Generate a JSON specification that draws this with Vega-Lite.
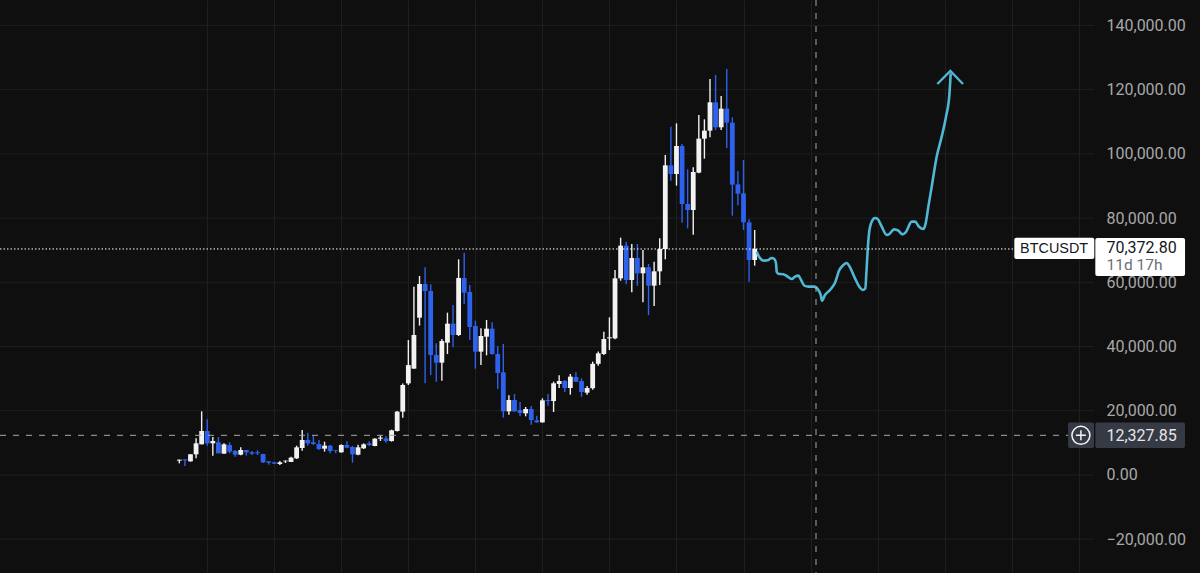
{
"$schema":"https://vega.github.io/schema/vega-lite/v6.json",
"width":1200,"height":573,"padding":0,"autosize":"none","background":"#0f0f0f",
"config":{"view":{"stroke":null}},
"datasets":{
"one":[{"note":"annotation"}],
"candles":[
{"i":0,"o":4435,"h":4745,"l":3600,"c":4745,"dir":"up"},
{"i":1,"o":4850,"h":4850,"l":2773,"c":4540,"dir":"down"},
{"i":2,"o":4226,"h":6500,"l":4100,"c":6407,"dir":"up"},
{"i":3,"o":6407,"h":11390,"l":5160,"c":9833,"dir":"up"},
{"i":4,"o":9520,"h":19800,"l":9520,"c":13675,"dir":"up"},
{"i":5,"o":13675,"h":17310,"l":9105,"c":9833,"dir":"down"},
{"i":6,"o":9833,"h":11806,"l":6000,"c":10560,"dir":"up"},
{"i":7,"o":10145,"h":11806,"l":6720,"c":6720,"dir":"down"},
{"i":8,"o":6615,"h":9833,"l":6615,"c":9520,"dir":"up"},
{"i":9,"o":9315,"h":10145,"l":6720,"c":7240,"dir":"down"},
{"i":10,"o":7445,"h":7760,"l":5680,"c":6300,"dir":"down"},
{"i":11,"o":6300,"h":8590,"l":6095,"c":7760,"dir":"up"},
{"i":12,"o":7760,"h":7760,"l":5990,"c":7030,"dir":"down"},
{"i":13,"o":7030,"h":7445,"l":6200,"c":6615,"dir":"down"},
{"i":14,"o":7030,"h":7655,"l":6200,"c":6720,"dir":"down"},
{"i":15,"o":6510,"h":6600,"l":3700,"c":3915,"dir":"down"},
{"i":16,"o":4226,"h":4300,"l":3190,"c":3810,"dir":"down"},
{"i":17,"o":3915,"h":4100,"l":3400,"c":3500,"dir":"down"},
{"i":18,"o":3395,"h":4300,"l":3080,"c":3915,"dir":"up"},
{"i":19,"o":4226,"h":4500,"l":3700,"c":4435,"dir":"up"},
{"i":20,"o":4020,"h":5680,"l":4000,"c":5370,"dir":"up"},
{"i":21,"o":5160,"h":9105,"l":4950,"c":8590,"dir":"up"},
{"i":22,"o":8380,"h":13985,"l":7550,"c":10870,"dir":"up"},
{"i":23,"o":10870,"h":13155,"l":9105,"c":9833,"dir":"down"},
{"i":24,"o":10145,"h":12220,"l":9315,"c":9625,"dir":"down"},
{"i":25,"o":9625,"h":10870,"l":7755,"c":8070,"dir":"down"},
{"i":26,"o":8170,"h":10350,"l":7240,"c":9105,"dir":"up"},
{"i":27,"o":9105,"h":9315,"l":6720,"c":7445,"dir":"down"},
{"i":28,"o":7760,"h":7760,"l":6720,"c":7550,"dir":"down"},
{"i":29,"o":7030,"h":9520,"l":6925,"c":9315,"dir":"up"},
{"i":30,"o":9315,"h":10460,"l":8275,"c":8480,"dir":"down"},
{"i":31,"o":8690,"h":9000,"l":3810,"c":6407,"dir":"down"},
{"i":32,"o":6300,"h":9420,"l":6095,"c":8590,"dir":"up"},
{"i":33,"o":8275,"h":9833,"l":8070,"c":9520,"dir":"up"},
{"i":34,"o":9833,"h":10460,"l":9000,"c":9315,"dir":"down"},
{"i":35,"o":9000,"h":11400,"l":8890,"c":11285,"dir":"up"},
{"i":36,"o":11285,"h":12220,"l":10560,"c":11600,"dir":"up"},
{"i":37,"o":11390,"h":12115,"l":10040,"c":10560,"dir":"down"},
{"i":38,"o":10560,"h":14090,"l":10350,"c":13880,"dir":"up"},
{"i":39,"o":13675,"h":19900,"l":13500,"c":19700,"dir":"up"},
{"i":40,"o":19700,"h":28500,"l":17800,"c":28000,"dir":"up"},
{"i":41,"o":28500,"h":42000,"l":28000,"c":34200,"dir":"up"},
{"i":42,"o":33100,"h":58600,"l":33100,"c":43580,"dir":"up"},
{"i":43,"o":48980,"h":61960,"l":46500,"c":59460,"dir":"up"},
{"i":44,"o":59460,"h":64660,"l":28525,"c":57285,"dir":"down"},
{"i":45,"o":57285,"h":59360,"l":31120,"c":37350,"dir":"down"},
{"i":46,"o":37350,"h":40980,"l":29040,"c":34960,"dir":"down"},
{"i":47,"o":34960,"h":42335,"l":29350,"c":41710,"dir":"up"},
{"i":48,"o":41190,"h":50535,"l":37660,"c":47110,"dir":"up"},
{"i":49,"o":47110,"h":52925,"l":39740,"c":43580,"dir":"down"},
{"i":50,"o":43580,"h":67150,"l":43270,"c":61335,"dir":"up"},
{"i":51,"o":61335,"h":69225,"l":53235,"c":56765,"dir":"down"},
{"i":52,"o":56975,"h":59155,"l":42020,"c":46070,"dir":"down"},
{"i":53,"o":46380,"h":48045,"l":33095,"c":38390,"dir":"down"},
{"i":54,"o":38390,"h":45660,"l":34235,"c":43270,"dir":"up"},
{"i":55,"o":43060,"h":48250,"l":37245,"c":45550,"dir":"up"},
{"i":56,"o":45550,"h":47525,"l":37400,"c":37660,"dir":"down"},
{"i":57,"o":37660,"h":40150,"l":26760,"c":31745,"dir":"down"},
{"i":58,"o":31950,"h":40775,"l":17830,"c":19800,"dir":"down"},
{"i":59,"o":19800,"h":24785,"l":18765,"c":23330,"dir":"up"},
{"i":60,"o":23330,"h":25200,"l":19590,"c":19800,"dir":"down"},
{"i":61,"o":20220,"h":22700,"l":18245,"c":19285,"dir":"down"},
{"i":62,"o":19180,"h":21150,"l":18245,"c":20530,"dir":"up"},
{"i":63,"o":20530,"h":21460,"l":15650,"c":17100,"dir":"down"},
{"i":64,"o":17000,"h":18450,"l":16270,"c":16375,"dir":"down"},
{"i":65,"o":16375,"h":23850,"l":16270,"c":23230,"dir":"up"},
{"i":66,"o":23330,"h":25200,"l":21570,"c":23020,"dir":"down"},
{"i":67,"o":23020,"h":29040,"l":19590,"c":28525,"dir":"up"},
{"i":68,"o":28320,"h":31015,"l":27070,"c":29250,"dir":"up"},
{"i":69,"o":29250,"h":29560,"l":25825,"c":27070,"dir":"down"},
{"i":70,"o":27070,"h":31430,"l":25000,"c":30600,"dir":"up"},
{"i":71,"o":30500,"h":31950,"l":28940,"c":29040,"dir":"down"},
{"i":72,"o":29250,"h":30080,"l":24370,"c":25825,"dir":"down"},
{"i":73,"o":25615,"h":27700,"l":25000,"c":27070,"dir":"up"},
{"i":74,"o":27000,"h":35280,"l":26538,"c":34600,"dir":"up"},
{"i":75,"o":34600,"h":38400,"l":34000,"c":37870,"dir":"up"},
{"i":76,"o":37660,"h":44620,"l":37350,"c":42335,"dir":"up"},
{"i":77,"o":42540,"h":49085,"l":38910,"c":42860,"dir":"up"},
{"i":78,"o":42540,"h":63825,"l":42230,"c":61230,"dir":"up"},
{"i":79,"o":61230,"h":73900,"l":60500,"c":71410,"dir":"up"},
{"i":80,"o":71410,"h":72650,"l":59365,"c":60715,"dir":"down"},
{"i":81,"o":60715,"h":71930,"l":56870,"c":67565,"dir":"up"},
{"i":82,"o":67565,"h":71930,"l":58950,"c":62790,"dir":"down"},
{"i":83,"o":62790,"h":70055,"l":53755,"c":64660,"dir":"up"},
{"i":84,"o":64660,"h":65700,"l":49810,"c":58950,"dir":"down"},
{"i":85,"o":58950,"h":66425,"l":52615,"c":63410,"dir":"up"},
{"i":86,"o":63410,"h":73690,"l":59155,"c":70370,"dir":"up"},
{"i":87,"o":70370,"h":99650,"l":67150,"c":96430,"dir":"up"},
{"i":88,"o":96430,"h":108475,"l":91655,"c":93730,"dir":"down"},
{"i":89,"o":93730,"h":109510,"l":90100,"c":102450,"dir":"up"},
{"i":90,"o":102450,"h":103075,"l":78570,"c":84385,"dir":"down"},
{"i":91,"o":84385,"h":95185,"l":76805,"c":82520,"dir":"down"},
{"i":92,"o":82520,"h":95810,"l":74830,"c":94355,"dir":"up"},
{"i":93,"o":94145,"h":112110,"l":93940,"c":104740,"dir":"up"},
{"i":94,"o":104740,"h":110760,"l":98510,"c":107230,"dir":"up"},
{"i":95,"o":107230,"h":123320,"l":105150,"c":116055,"dir":"up"},
{"i":96,"o":116055,"h":124570,"l":107435,"c":108270,"dir":"down"},
{"i":97,"o":108270,"h":118030,"l":107435,"c":114080,"dir":"up"},
{"i":98,"o":114080,"h":126440,"l":101830,"c":109720,"dir":"down"},
{"i":99,"o":109720,"h":111380,"l":80750,"c":90410,"dir":"down"},
{"i":100,"o":90510,"h":94665,"l":83970,"c":87605,"dir":"down"},
{"i":101,"o":87710,"h":98090,"l":76290,"c":78675,"dir":"down"},
{"i":102,"o":78675,"h":79610,"l":60195,"c":66945,"dir":"down"},
{"i":103,"o":66945,"h":76290,"l":65180,"c":70370,"dir":"up"}
],
"sketch":[
{"t":103.36,"v":69540},{"t":103.84,"v":67775},{"t":104.67,"v":66735},{"t":105.45,"v":66940},{"t":106.04,"v":67565},{"t":106.52,"v":67255},{"t":106.82,"v":65905},{"t":106.94,"v":63310},{"t":107.24,"v":62685},{"t":108.13,"v":62480},{"t":108.73,"v":61960},{"t":109.62,"v":61025},{"t":110.22,"v":61750},{"t":110.82,"v":62060},{"t":111.3,"v":60715},{"t":111.89,"v":58950},{"t":112.61,"v":58635},{"t":113.62,"v":58635},{"t":114.4,"v":57600},{"t":114.82,"v":56040},{"t":115.05,"v":54275},{"t":115.59,"v":56040},{"t":116.49,"v":57600},{"t":117.38,"v":59880},{"t":118.16,"v":63830},{"t":118.87,"v":65385},{"t":119.47,"v":66010},{"t":120.07,"v":64660},{"t":120.96,"v":61230},{"t":121.74,"v":58635},{"t":122.33,"v":57600},{"t":122.81,"v":58115},{"t":122.99,"v":62790},{"t":123.23,"v":70055},{"t":123.47,"v":75250},{"t":123.95,"v":78885},{"t":124.54,"v":80025},{"t":125.02,"v":79715},{"t":125.74,"v":77325},{"t":126.63,"v":74730},{"t":127.11,"v":75040},{"t":127.94,"v":76495},{"t":128.72,"v":76080},{"t":129.43,"v":74935},{"t":130.03,"v":75560},{"t":131.11,"v":78885},{"t":131.7,"v":78885},{"t":132.42,"v":77325},{"t":133.19,"v":76600},{"t":133.61,"v":78365},{"t":134.09,"v":83555},{"t":134.69,"v":89785},{"t":135.58,"v":99130},{"t":136.48,"v":105360},{"t":137.25,"v":111590},{"t":137.85,"v":118340},{"t":138.09,"v":125090}
],
"arrow":[{"t":135.7,"v":121765},{"t":138.03,"v":125815},{"t":140.3,"v":121765}],
"levels":[{"level":-20000},{"level":0},{"level":20000},{"level":40000},{"level":60000},{"level":80000},{"level":100000},{"level":120000},{"level":140000}]
},
"layer":[
{"data":{"name":"levels"},"mark":{"type":"rule","color":"#1f1f1f","strokeWidth":1},
 "encoding":{
  "x":{"datum":-32.1,"type":"quantitative","scale":{"domain":[-32.1,182.72],"nice":false,"zero":false,"padding":0},
   "axis":{"title":null,"labels":false,"ticks":false,"domain":false,"grid":true,"gridColor":"#1f1f1f","gridWidth":1,"values":[5,17,29,41,53,65,77,89,101,113,125,137,149,161]}},
  "x2":{"datum":163.75},
  "y":{"field":"level","type":"quantitative","scale":{"domain":[-30558,147930],"nice":false,"zero":false},
   "axis":{"title":null,"orient":"right","offset":-94,"values":[-20000,0,20000,40000,60000,80000,100000,120000,140000],"format":",.2f","grid":false,"ticks":false,"domain":false,"labelAlign":"left","labelPadding":0,"labelFont":"Roboto","labelFontSize":16,"labelColor":"#a8a8a8"}}
 }},
{"data":{"name":"candles"},"mark":{"type":"rule","strokeWidth":1.4},
 "encoding":{"x":{"field":"i","type":"quantitative"},"y":{"field":"l","type":"quantitative"},"y2":{"field":"h"},
  "color":{"field":"dir","type":"nominal","scale":{"domain":["up","down"],"range":["#f2f2f2","#2e62ee"]},"legend":null}}},
{"data":{"name":"candles"},"mark":{"type":"bar","width":4.8},
 "encoding":{"x":{"field":"i","type":"quantitative"},"y":{"field":"o","type":"quantitative"},"y2":{"field":"c"},
  "color":{"field":"dir","type":"nominal","scale":{"domain":["up","down"],"range":["#ffffff","#2e62ee"]},"legend":null}}},
{"data":{"name":"sketch"},"mark":{"type":"line","color":"#4fb8d4","strokeWidth":2.6,"interpolate":"monotone"},
 "encoding":{"x":{"field":"t","type":"quantitative"},"y":{"field":"v","type":"quantitative"}}},
{"data":{"name":"arrow"},"mark":{"type":"line","color":"#4fb8d4","strokeWidth":2.4},
 "encoding":{"x":{"field":"t","type":"quantitative"},"y":{"field":"v","type":"quantitative"},"order":{"field":"t"}}},
{"data":{"name":"one"},"mark":{"type":"rule","color":"#a8a8a8","strokeWidth":1,"strokeDash":[6,7]},
 "encoding":{"x":{"datum":113.98,"type":"quantitative"}}},
{"data":{"name":"one"},"mark":{"type":"rule","color":"#a8a8a8","strokeWidth":1,"strokeDash":[6,7]},
 "encoding":{"y":{"datum":12327.85,"type":"quantitative"},"x":{"datum":-32.1,"type":"quantitative"},"x2":{"datum":159.1}}},
{"data":{"name":"one"},"mark":{"type":"rule","color":"#ffffff","strokeWidth":1,"strokeDash":[1.5,2]},
 "encoding":{"y":{"datum":70372.8,"type":"quantitative"},"x":{"datum":-32.1,"type":"quantitative"},"x2":{"datum":149.4}}},
{"data":{"name":"one"},"mark":{"type":"rect","color":"#ffffff","cornerRadius":2},
 "encoding":{"x":{"datum":149.48,"type":"quantitative"},"x2":{"datum":163.8},"y":{"datum":73888,"type":"quantitative"},"y2":{"datum":67253}}},
{"data":{"name":"one"},"mark":{"type":"rect","color":"#ffffff","cornerRadius":2},
 "encoding":{"x":{"datum":163.98,"type":"quantitative"},"x2":{"datum":180.04},"y":{"datum":73794,"type":"quantitative"},"y2":{"datum":61958}}},
{"data":{"name":"one"},"mark":{"type":"rect","color":"#363a45","cornerRadius":2},
 "encoding":{"x":{"datum":159.1,"type":"quantitative"},"x2":{"datum":163.75},"y":{"datum":16300,"type":"quantitative"},"y2":{"datum":8400}}},
{"data":{"name":"one"},"mark":{"type":"rect","color":"#363a45","cornerRadius":2},
 "encoding":{"x":{"datum":163.98,"type":"quantitative"},"x2":{"datum":180.04},"y":{"datum":16300,"type":"quantitative"},"y2":{"datum":8400}}},
{"data":{"name":"one"},"mark":{"type":"point","shape":"circle","size":324,"filled":false,"color":"#f4f4f4","strokeWidth":1.5,"opacity":1},
 "encoding":{"x":{"datum":161.4,"type":"quantitative"},"y":{"datum":12327.85,"type":"quantitative"}}},
{"data":{"name":"one"},"mark":{"type":"point","shape":"M-1,0H1M0,-1V1","size":100,"filled":false,"color":"#f4f4f4","strokeWidth":1.5,"opacity":1},
 "encoding":{"x":{"datum":161.4,"type":"quantitative"},"y":{"datum":12327.85,"type":"quantitative"}}},
{"data":{"name":"one"},"mark":{"type":"text","text":"BTCUSDT","font":"Liberation Sans","fontSize":14.4,"color":"#131722","align":"center","baseline":"middle"},
 "encoding":{"x":{"datum":156.6,"type":"quantitative"},"y":{"datum":70372.8,"type":"quantitative"}}},
{"data":{"name":"one"},"mark":{"type":"text","text":"70,372.80","font":"Roboto","fontSize":16,"color":"#131722","align":"left","baseline":"middle"},
 "encoding":{"x":{"datum":165.98,"type":"quantitative"},"y":{"datum":70772,"type":"quantitative"}}},
{"data":{"name":"one"},"mark":{"type":"text","text":"11d 17h","font":"Roboto","fontSize":15.5,"color":"#6d6f76","align":"left","baseline":"middle"},
 "encoding":{"x":{"datum":165.98,"type":"quantitative"},"y":{"datum":65385,"type":"quantitative"}}},
{"data":{"name":"one"},"mark":{"type":"text","text":"12,327.85","font":"Roboto","fontSize":16,"color":"#e6e6e6","align":"left","baseline":"middle"},
 "encoding":{"x":{"datum":165.98,"type":"quantitative"},"y":{"datum":12200,"type":"quantitative"}}}
]
}
